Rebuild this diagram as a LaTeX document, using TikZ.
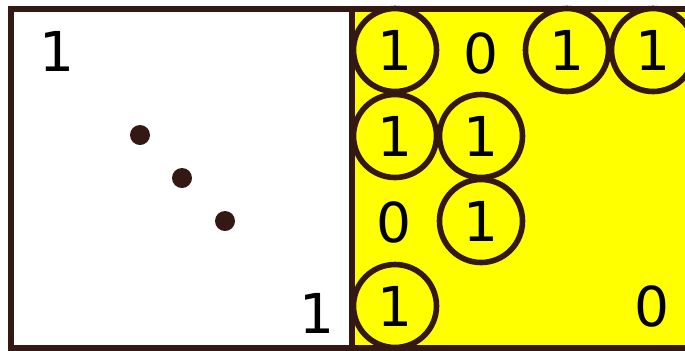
\documentclass[tikz,border=0pt]{standalone}
\usepackage{fontspec}
\setmainfont{DejaVu Sans}
\usepackage{xcolor}
\usetikzlibrary{positioning}
\definecolor{rim}{HTML}{331814}
\definecolor{lit}{HTML}{FFFF00}
\tikzstyle{bit}=[circle, draw=rim, line width=2.8pt, fill=lit,
  minimum size=41.5pt, inner sep=0pt, font=\fontsize{27.5}{27.5}\selectfont]
\tikzstyle{val}=[inner sep=0pt, font=\fontsize{27.5}{27.5}\selectfont]
\tikzstyle{dot}=[circle, fill=rim, minimum size=10pt, inner sep=0pt]

\begin{document}
\begin{tikzpicture}[x=0.5pt, y=-0.5pt]
\useasboundingbox (0,0) rectangle (685,350);
\clip (0,0) rectangle (685,350);
% blocks
\draw[rim, line width=3pt, fill=white] (11,9) rectangle (352,348);
\draw[rim, line width=3pt, fill=lit] (352,9) rectangle (700,348);
% identity block
\node[val] (d1) at (57,51) {1};
\node[val] (d2) at (317,313) {1};
\node[dot] (e1) at (140,135) {};
\node[dot] (e2) at (182,178) {};
\node[dot] (e3) at (225,221) {};
% yellow block, row by row
\node[bit] (b11) at (395,50) {1};
\node[val] (b12) at (481,53) {0};
\node[bit] (b13) at (567,50) {1};
\node[bit] (b14) at (653,50) {1};
\node[bit] (b21) at (395,136) {1};
\node[bit] (b22) at (481,136) {1};
\node[val] (b31) at (394,222) {0};
\node[bit] (b32) at (481,221) {1};
\node[bit] (b41) at (395,306) {1};
\node[val] (b44) at (652,306) {0};
\end{tikzpicture}
\end{document}
